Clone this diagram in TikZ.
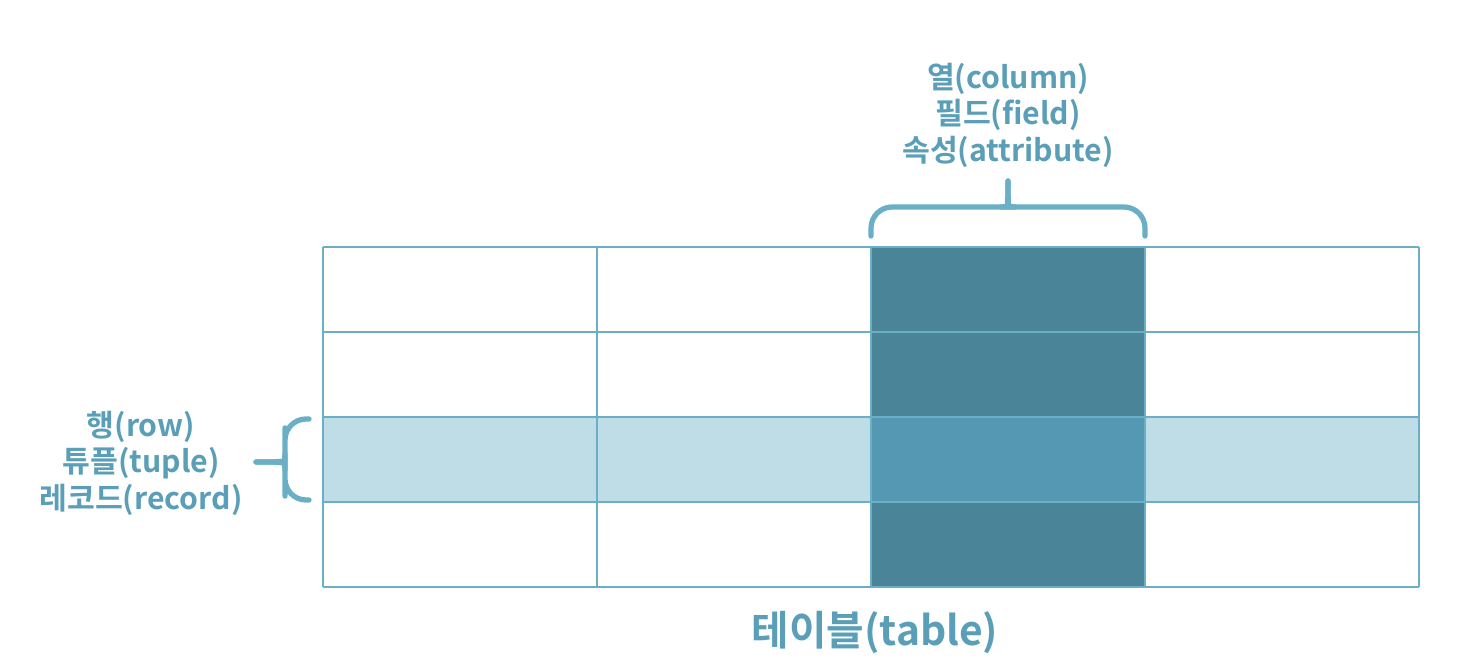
\documentclass[tikz,border=0pt]{standalone}
\usepackage{fontspec}
\setmainfont{Noto Sans CJK KR}[BoldFont={Noto Sans CJK KR Bold}]
\definecolor{gridline}{HTML}{6AAFC6}
\definecolor{labeltext}{HTML}{5A9EB7}
\definecolor{colfill}{HTML}{4A8498}
\definecolor{rowfill}{HTML}{BFDDE6}
\definecolor{crossfill}{HTML}{5498B3}
\begin{document}
\begin{tikzpicture}[x=0.01cm,y=-0.01cm, every node/.style={font=\bfseries\fontsize{8.6}{10.4}\selectfont,text=labeltext},
  brace/.style={draw=gridline,line width=1.5pt,line cap=round,line join=round}]
\useasboundingbox (0,0) rectangle (1458,664);
\fill[rowfill] (323,417) rectangle (1419,502);
\fill[colfill] (871,247) rectangle (1145,587);
\fill[crossfill] (871,417) rectangle (1145,502);
\foreach \y in {247,332,417,502,587} \draw[gridline,line width=0.6pt] (323,\y) -- (1419,\y);
\foreach \x in {323,597,871,1145,1419} \draw[gridline,line width=0.6pt] (\x,247) -- (\x,587);
\node[align=center] (collabel) at (1008,115) {열(column)\\필드(field)\\속성(attribute)};
\node[align=center] (rowlabel) at (141,463) {행(row)\\튜플(tuple)\\레코드(record)};
\node[font=\bfseries\fontsize{11.6}{14}\selectfont] (tablelabel) at (875,632) {테이블(table)};
\coordinate (coltip) at (1008,181);
\coordinate (rowtip) at (256,462);
\draw[brace] (871,236) [rounded corners=6] |- (994,207) [sharp corners] .. controls (1004,207) and (1008,203) .. (1008,194) -- (coltip);
\draw[brace] (1145,236) [rounded corners=6] |- (1022,207) [sharp corners] .. controls (1012,207) and (1008,203) .. (1008,194) -- (coltip);
\draw[brace] (309,419) [rounded corners=6] -| (285,449) [sharp corners] .. controls (285,458) and (281,462) .. (272,462) -- (rowtip);
\draw[brace] (309,500) [rounded corners=6] -| (285,475) [sharp corners] .. controls (285,466) and (281,462) .. (272,462) -- (rowtip);
\end{tikzpicture}
\end{document}
